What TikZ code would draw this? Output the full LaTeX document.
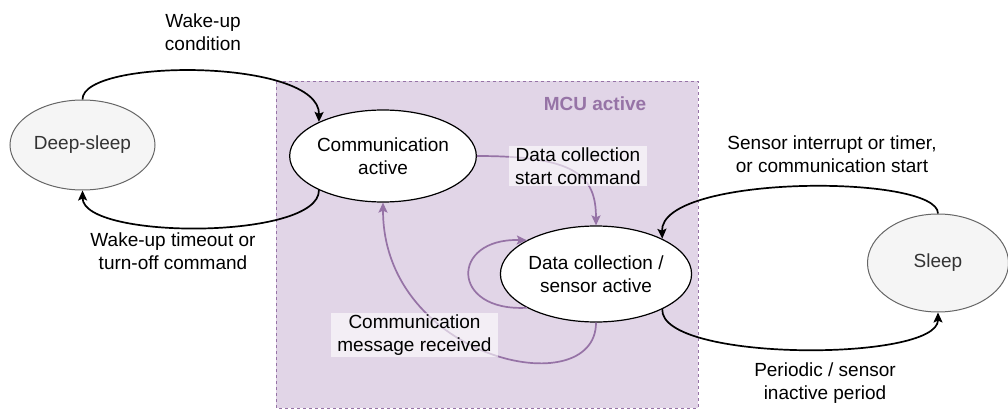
\documentclass[tikz,border=0pt]{standalone}
\usepackage{fontspec}
\setmainfont{Liberation Sans}
\usetikzlibrary{shapes.geometric,arrows.meta}
\definecolor{mcufill}{HTML}{E1D5E7}
\definecolor{mculine}{HTML}{9673A6}
\definecolor{sleepfill}{HTML}{F5F5F5}
\definecolor{sleepline}{HTML}{666666}
\definecolor{sleeptext}{HTML}{333333}

\begin{document}
\begin{tikzpicture}[
x=1pt, y=-1pt,
>={Stealth[length=10pt,width=9pt,inset=2pt]},
every node/.style={font=\fontsize{19}{23}\selectfont, align=center},
activestate/.style={ellipse, draw=black, line width=1.2pt, fill=white, inner sep=0pt},
idlestate/.style={ellipse, draw=sleepline, line width=1pt, fill=sleepfill, text=sleeptext, inner sep=0pt},
edgelabel/.style={inner sep=0pt},
boxlabel/.style={fill=white, fill opacity=0.6, text opacity=1, inner xsep=6pt, inner ysep=1.5pt},
blackedge/.style={->, line width=1.7pt},
purpleedge/.style={->, draw=mculine, line width=1.7pt},
]
\useasboundingbox (0,0) rectangle (1008,409);

\draw[fill=mcufill, draw=mculine, dashed, line width=0.8pt] (276,81) rectangle (698,408);
\node[text=mculine, font=\fontsize{19}{23}\selectfont\bfseries] (mcu) at (595,104) {MCU active};

\node[idlestate, minimum width=145pt, minimum height=90pt]  (deep)  at (82.5,145) {Deep-sleep};
\node[activestate, minimum width=182pt, minimum height=92pt] (comm) at (383,156) {Communication\\active};
\node[activestate, minimum width=182pt, minimum height=96pt] (data) at (596,274) {Data collection /\\sensor active};
\node[idlestate, minimum width=141pt, minimum height=98pt]  (sleep) at (938,263) {Sleep};

\node[edgelabel] (wakecond)  at (203,32)  {Wake-up\\condition};
\node[edgelabel] (timeout)   at (173,251) {Wake-up timeout or\\turn-off command};
\node[edgelabel] (sensorint) at (832,154) {Sensor interrupt or timer,\\or communication start};
\node[edgelabel] (periodic)  at (825,383) {Periodic / sensor\\inactive period};

\draw[blackedge] (deep.north) .. controls (82,58) and (320,58) .. (comm.152);
\draw[blackedge] (comm.208) .. controls (320,240) and (83,240) .. (deep.south);
\draw[blackedge] (sleep.north) .. controls (938,174) and (660,174) .. (data.28);
\draw[blackedge] (data.-28) .. controls (660,362) and (938,362) .. (sleep.south);

\draw[purpleedge] (comm.east) .. controls (575,156) and (596,175) .. (data.north);
\draw[purpleedge] (data.206) .. controls (450,312) and (450,238) .. (data.154);
\draw[purpleedge] (data.south) .. controls (596,405) and (383,360) .. (comm.south);

\node[boxlabel] (startcmd) at (578,166) {Data collection\\start command};
\node[boxlabel] (msgrecv)  at (414.5,335) {Communication\\message received};

\end{tikzpicture}
\end{document}
